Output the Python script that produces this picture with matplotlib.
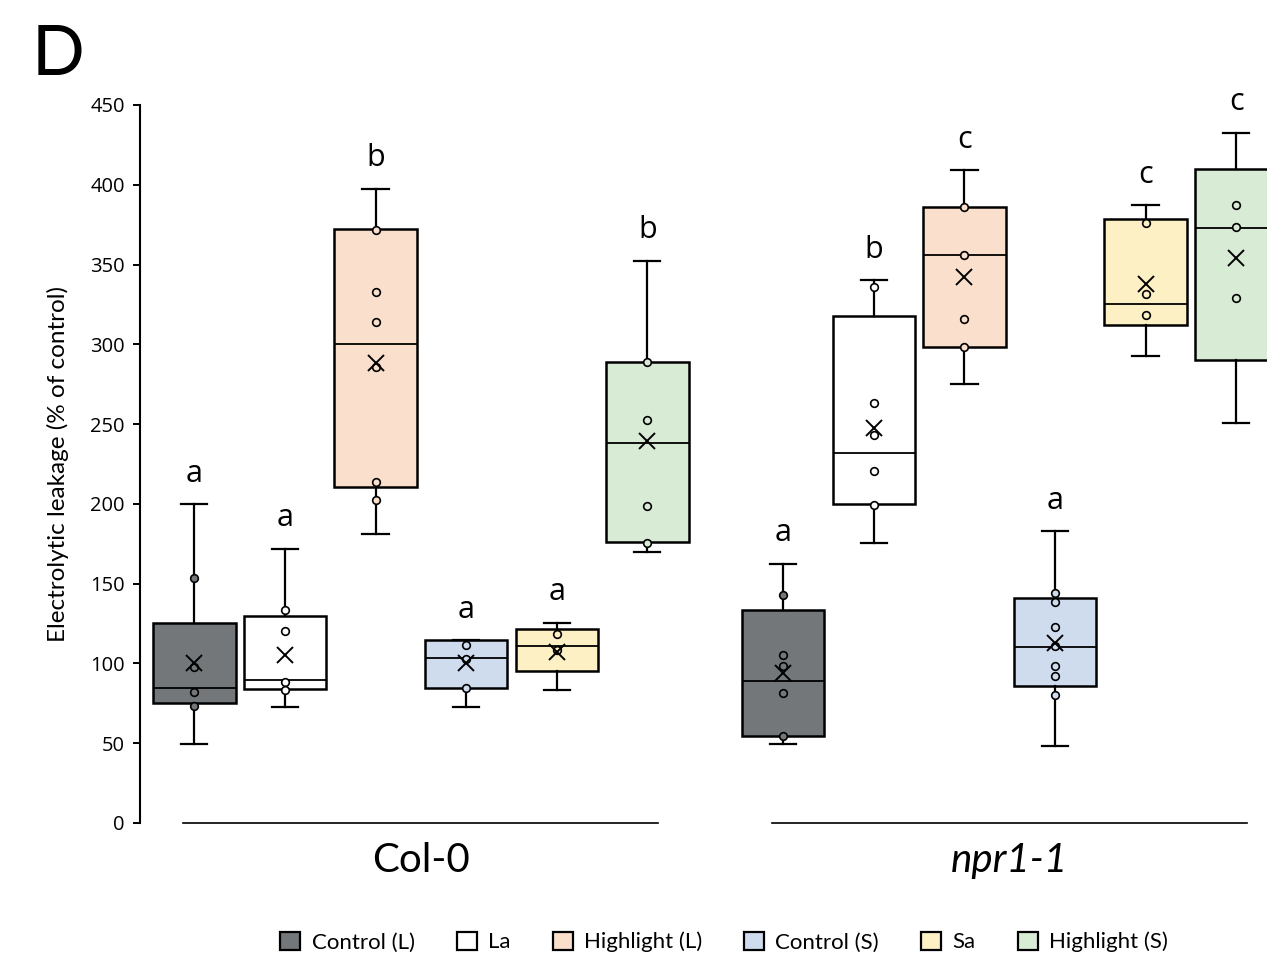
import matplotlib.pyplot as plt
from matplotlib.patches import Patch

# order inside each genotype: Control (L), La, Highlight (L), Control (S), Sa, Highlight (S)
treatments = ['Control (L)', 'La', 'Highlight (L)', 'Control (S)', 'Sa', 'Highlight (S)']
genotypes = ['Col-0', 'npr1-1']
colors = ['#73777a', '#ffffff', '#fadfcc', '#cfdcee', '#fdf0c4', '#d8ebd5']

q1 = [75.5, 84.2, 210.8, 84.8, 95.3, 175.9, 54.5, 199.7, 298.5, 85.9, 312.2, 290.1]
med = [84.8, 89.6, 300.2, 103.2, 111.1, 238.3, 89.2, 231.6, 355.9, 110.5, 325.4, 373.2]
q3 = [125.5, 129.9, 372.1, 114.5, 121.6, 288.9, 133.4, 317.6, 385.8, 141.0, 378.5, 409.9]
whislo = [49.3, 72.7, 180.9, 72.7, 83.4, 169.7, 49.5, 175.4, 275.3, 48.1, 292.6, 250.7]
whishi = [199.7, 171.9, 397.5, 114.5, 125.5, 352.4, 162.3, 340.2, 409.0, 182.9, 387.2, 432.5]
means = [100.0, 105.3, 288.5, 100.1, 107.4, 239.6, 94.3, 247.6, 342.4, 113.0, 337.7, 354.2]

points = [
    [153.3, 98.0, 81.9, 73.5],
    [133.3, 120.3, 88.6, 83.4],
    [371.6, 332.8, 314.2, 286.0, 213.9, 202.4],
    [111.4, 102.6, 84.8],
    [118.3, 108.4],
    [288.9, 252.6, 198.9, 175.7],
    [143.2, 105.2, 98.5, 81.4, 54.3],
    [336.0, 263.5, 243.4, 220.4, 199.2],
    [385.8, 355.9, 315.9, 298.5],
    [144.3, 138.2, 122.8, 111.1, 98.5, 92.3, 80.3],
    [376.0, 331.5, 318.6],
    [387.5, 373.4, 329.3],
]
letters = ['a', 'a', 'b', 'a', 'a', 'b', 'a', 'b', 'c', 'a', 'c', 'c']

W, H = 1267, 973
fig = plt.figure(figsize=(W / 100, H / 100), dpi=100)
ax = fig.add_axes([140 / W, 150 / H, 1127 / W, 718 / H])

n = len(treatments)
positions = [i for i in range(n)] + [i + n + 0.5 for i in range(n)]

stats = []
for i in range(len(q1)):
    stats.append(dict(q1=q1[i], med=med[i], q3=q3[i], whislo=whislo[i],
                      whishi=whishi[i], mean=means[i], fliers=[]))

bp = ax.bxp(stats, positions=positions, widths=0.91, capwidths=0.29,
            patch_artist=True, showmeans=True, showfliers=False,
            boxprops=dict(linewidth=1.8, edgecolor='black'),
            whiskerprops=dict(linewidth=1.6, color='black'),
            capprops=dict(linewidth=1.6, color='black'),
            medianprops=dict(linewidth=1.3, color='black'),
            meanprops=dict(marker='x', markeredgecolor='black',
                           markersize=12, markeredgewidth=1.4))

for i, box in enumerate(bp['boxes']):
    box.set_facecolor(colors[i % n])
for m in bp['means']:
    m.set_zorder(5)

for i, pts in enumerate(points):
    ax.plot([positions[i]] * len(pts), pts, 'o', ms=5.5, mfc=colors[i % n],
            mec='black', mew=1.2, zorder=4)

for i, let in enumerate(letters):
    ax.annotate(let, (positions[i], whishi[i]), xytext=(0, 22),
                textcoords='offset points', ha='center', va='center',
                fontsize=22, family='Open Sans')

# genotype lines and labels under each group
for g, name in enumerate(genotypes):
    grp = positions[g * n:(g + 1) * n]
    ax.plot([grp[0] - 0.12, grp[-1] + 0.12], [0, 0], color='black', lw=1.2,
            clip_on=False)
    ax.text(sum(grp) / n, -0.052, name, transform=ax.get_xaxis_transform(),
            ha='center', va='center', fontsize=29, family='Lato',
            style='italic' if g == 1 else 'normal')

ax.set_xlim(-0.6, 11.84)
ax.set_ylim(0, 450)
ax.set_yticks(range(0, 451, 50))
ax.set_xticks([])
for s in ['top', 'right', 'bottom']:
    ax.spines[s].set_visible(False)
ax.spines['left'].set_linewidth(1.5)
ax.tick_params(axis='y', length=5, width=1.4, labelsize=14.5, pad=6)
for lab in ax.get_yticklabels():
    lab.set_family('Open Sans')
ax.set_ylabel('Electrolytic leakage (% of control)', fontsize=17.5,
              family='Lato', labelpad=15)

fig.text(32 / W, 1 - 75 / H, 'D', fontsize=50, family='Lato', va='baseline')

handles = [Patch(facecolor=c, edgecolor='black', linewidth=1.6) for c in colors]
fig.legend(handles, treatments, loc='center', ncol=6, frameon=False,
           bbox_to_anchor=(724 / W, 1 - 942 / H),
           prop=dict(family='Lato', size=16), handlelength=0.9,
           handleheight=0.9, handletextpad=0.5, columnspacing=1.9)

fig.savefig('out.png', dpi=100)
